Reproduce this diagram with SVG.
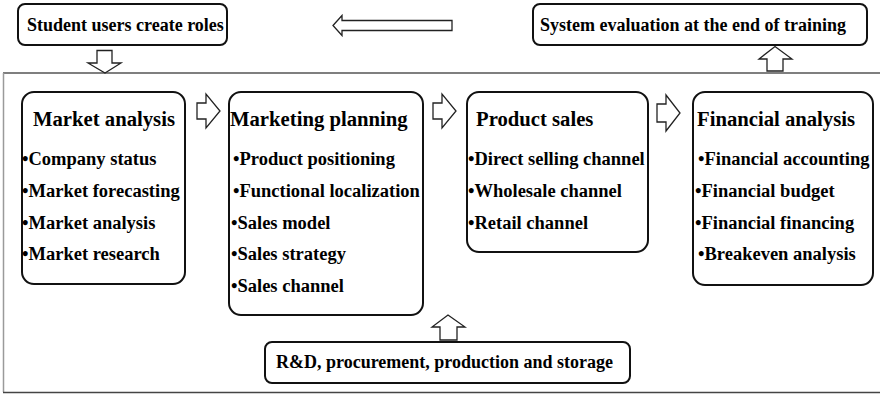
<svg xmlns="http://www.w3.org/2000/svg" width="880" height="394" viewBox="0 0 880 394">
  <style>
    .box { fill: #ffffff; stroke: #111111; stroke-width: 2; }
    .arrow { fill: #ffffff; stroke: #222222; stroke-width: 1.3; stroke-linejoin: miter; }
    .frame { fill: none; stroke-width: 1.5; }
    text { font-family: "Liberation Serif", "Times New Roman", serif; font-weight: bold; fill: #000000; }
    .head { font-size: 18px; }
    .title { font-size: 20.7px; }
    .item { font-size: 18.5px; }
  </style>
  <rect width="880" height="394" fill="#ffffff"/>

  <!-- training frame -->
  <g id="frame">
    <line class="frame" x1="3" y1="73" x2="880" y2="73" stroke="#555555"/>
    <line class="frame" x1="3.5" y1="73" x2="3.5" y2="392" stroke="#9a9a9a"/>
    <line class="frame" x1="3" y1="392.5" x2="880" y2="392.5" stroke="#444444"/>
  </g>

  <g id="connectors">
    <!-- back arrow along the top -->
    <path class="arrow" d="M333,25.5 L342,15.5 L342,20.5 L452,20.5 L452,30.5 L342,30.5 L342,35.5 Z"/>
    <!-- into the frame -->
    <path class="arrow" d="M97,50.5 L112,50.5 L112,63 L121,63 L105,73 L88,63 L97,63 Z"/>
    <!-- out of the frame -->
    <path class="arrow" d="M767,71 L783,71 L783,59 L792,59 L775,46.5 L759,59 L767,59 Z"/>
    <!-- stage to stage -->
    <path class="arrow" d="M197,103 L206,103 L206,94 L220,111 L206,128 L206,119 L197,119 Z"/>
    <path class="arrow" d="M433,103 L442,103 L442,94 L456,111 L442,128 L442,119 L433,119 Z"/>
    <path class="arrow" d="M657,104 L666,104 L666,95 L680,113 L666,131 L666,122 L657,122 Z"/>
    <!-- support into planning -->
    <path class="arrow" d="M440,340 L457,340 L457,327 L465,327 L448,315 L432,327 L440,327 Z"/>
  </g>

  <g id="student-roles">
    <rect class="box" x="18" y="4" width="209" height="41" rx="7"/>
    <text class="head" x="27" y="30.5">Student users create roles</text>
  </g>

  <g id="system-evaluation">
    <rect class="box" x="533" y="4" width="334" height="41" rx="7"/>
    <text class="head" x="540" y="30.5">System evaluation at the end of training</text>
  </g>

  <g id="market-analysis">
    <rect class="box" x="22" y="92" width="163" height="192" rx="12"/>
    <text class="title" x="33" y="126">Market analysis</text>
    <text class="item" x="22" y="165">•Company status</text>
    <text class="item" x="22" y="197">•Market forecasting</text>
    <text class="item" x="22" y="228.5">•Market analysis</text>
    <text class="item" x="22" y="260">•Market research</text>
  </g>

  <g id="marketing-planning">
    <rect class="box" x="229" y="92" width="194" height="223" rx="12"/>
    <text class="title" x="230" y="126">Marketing planning</text>
    <text class="item" x="233" y="165">•Product positioning</text>
    <text class="item" x="233" y="197">•Functional localization</text>
    <text class="item" x="231" y="228.5">•Sales model</text>
    <text class="item" x="231" y="260">•Sales strategy</text>
    <text class="item" x="231" y="292">•Sales channel</text>
  </g>

  <g id="product-sales">
    <rect class="box" x="467" y="92" width="181" height="160" rx="12"/>
    <text class="title" x="476" y="126">Product sales</text>
    <text class="item" x="468" y="165">•Direct selling channel</text>
    <text class="item" x="468" y="197">•Wholesale channel</text>
    <text class="item" x="468" y="228.5">•Retail channel</text>
  </g>

  <g id="financial-analysis">
    <rect class="box" x="693" y="92" width="180" height="193" rx="12"/>
    <text class="title" x="697" y="126">Financial analysis</text>
    <text class="item" x="698" y="165">•Financial accounting</text>
    <text class="item" x="695" y="197">•Financial budget</text>
    <text class="item" x="695" y="228.5">•Financial financing</text>
    <text class="item" x="698" y="260">•Breakeven analysis</text>
  </g>

  <g id="rd-production">
    <rect class="box" x="265" y="342" width="365" height="41" rx="7"/>
    <text class="head" x="276" y="368">R&amp;D, procurement, production and storage</text>
  </g>
</svg>
